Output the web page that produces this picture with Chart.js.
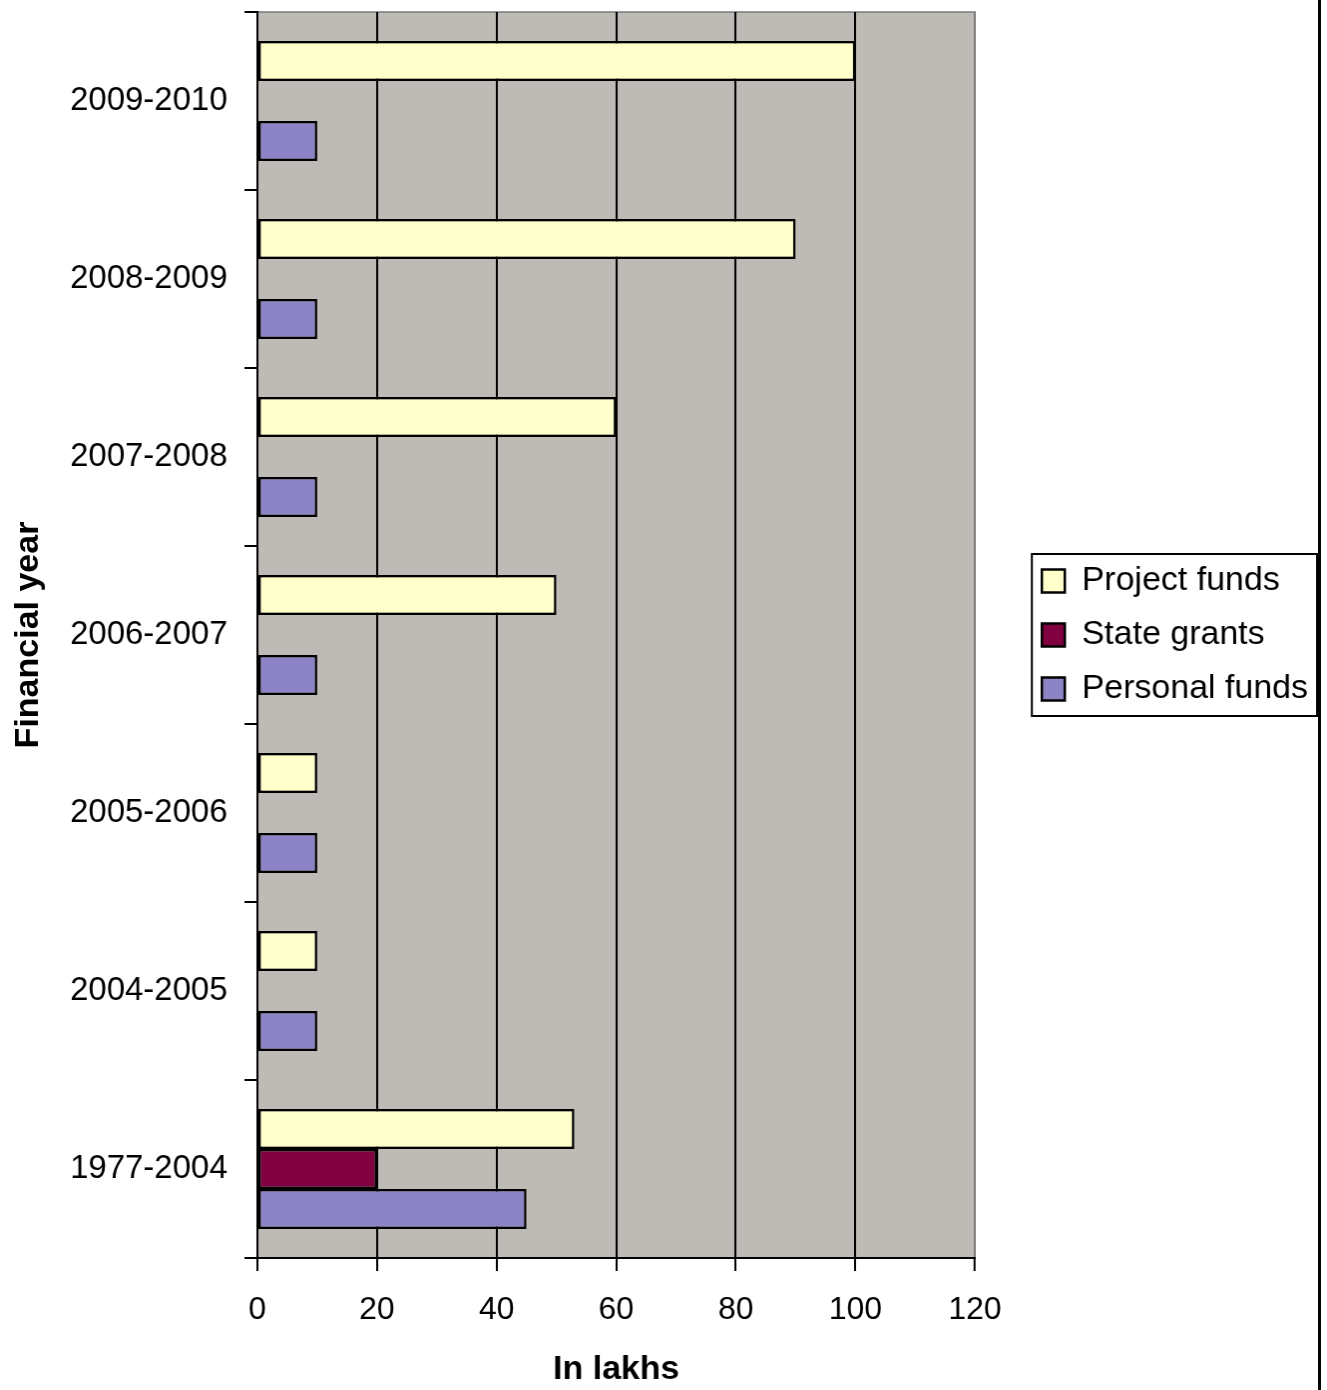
<!DOCTYPE html>
<html lang="en">
<head>
  <meta charset="UTF-8">
  <title>Funding by financial year</title>
  <script src="https://cdn.jsdelivr.net/npm/chart.js"></script>
  <style>
    body { margin: 0; background: #fff; }
    #fundChart { display: block; border-right: 3px solid #000; }
  </style>
</head>
<body>
  <canvas id="fundChart" width="1321" height="1390"></canvas>

  <script>
    // Financial years, top to bottom
    const years = ['2009-2010', '2008-2009', '2007-2008', '2006-2007', '2005-2006', '2004-2005', '1977-2004'];
    // Values in lakhs (null = no bar)
    const projectFunds = [100, 90, 60, 50, 10, 10, 53];
    const stateGrants = [null, null, null, null, null, null, 20];
    const personalFunds = [10, 10, 10, 10, 10, 10, 45];
    const xTicks = [0, 20, 40, 60, 80, 100, 120];

    const FONT = '"Liberation Sans", Arial, sans-serif';

    // grey plot background with thin border
    const plotBackground = {
      id: 'plotBackground',
      beforeDraw(chart) {
        const { ctx, chartArea: a } = chart;
        ctx.save();
        ctx.fillStyle = '#bebab5';
        ctx.fillRect(a.left, a.top, a.right - a.left, a.bottom - a.top);
        ctx.strokeStyle = '#7a7a7a';
        ctx.lineWidth = 1.5;
        ctx.strokeRect(a.left, a.top, a.right - a.left, a.bottom - a.top);
        ctx.restore();
      }
    };

    // frame around the legend items
    const legendFrame = {
      id: 'legendFrame',
      afterDraw(chart) {
        const boxes = chart.legend && chart.legend.legendHitBoxes;
        if (!boxes || !boxes.length) return;
        const first = boxes[0], last = boxes[boxes.length - 1];
        const left = Math.min(...boxes.map(b => b.left)) - 10;
        const right = Math.max(...boxes.map(b => b.left + b.width)) + 9;
        const top = first.top + first.height / 2 - 27;
        const bottom = last.top + last.height / 2 + 27;
        const ctx = chart.ctx;
        ctx.save();
        ctx.strokeStyle = '#000';
        ctx.lineWidth = 2;
        ctx.strokeRect(left, top, right - left, bottom - top);
        ctx.restore();
      }
    };

    new Chart(document.getElementById('fundChart'), {
      type: 'bar',
      data: {
        labels: years,
        datasets: [
          { label: 'Project funds', data: projectFunds, backgroundColor: '#ffffcc' },
          { label: 'State grants', data: stateGrants, backgroundColor: '#800040' },
          { label: 'Personal funds', data: personalFunds, backgroundColor: '#8c84c4' }
        ]
      },
      options: {
        indexAxis: 'y',
        responsive: false,
        animation: false,
        layout: { padding: { top: 12, right: 0, left: 0, bottom: 0 } },
        datasets: {
          bar: {
            borderColor: '#000',
            borderWidth: 2.5,
            borderSkipped: false,
            categoryPercentage: 0.674,
            barPercentage: 1.0
          }
        },
        plugins: {
          tooltip: { enabled: false },
          legend: {
            position: 'right',
            fullSize: false,
            maxWidth: 400,
            labels: {
              color: '#000',
              font: { family: FONT, size: 34 },
              boxWidth: 23,
              boxHeight: 23,
              padding: 20
            }
          }
        },
        scales: {
          x: {
            min: 0,
            max: 120,
            afterBuildTicks(scale) { scale.ticks = xTicks.map(v => ({ value: v })); },
            afterFit(scale) { scale.height = 132; },
            border: { color: '#000', width: 2 },
            grid: {
              color: ctx => (ctx.tick && ctx.tick.value === 120) ? '#7a7a7a' : '#000',
              lineWidth: ctx => (ctx.tick && ctx.tick.value === 120) ? 1.5 : 2,
              tickColor: '#000',
              tickWidth: 2,
              tickLength: 13
            },
            ticks: { color: '#000', padding: 20, font: { family: FONT, size: 32 } },
            title: {
              display: true,
              text: 'In lakhs',
              color: '#000',
              font: { family: FONT, size: 34, weight: 'bold' },
              padding: { top: 0, bottom: 0 }
            }
          },
          y: {
            afterFit(scale) {
              scale.width = 258;
              scale.paddingTop = 0;
              scale.paddingBottom = 0;
            },
            border: { color: '#000', width: 2 },
            grid: {
              drawOnChartArea: false,
              offset: true,
              color: '#000',
              lineWidth: 2,
              tickLength: 13
            },
            ticks: { color: '#000', padding: 17, font: { family: FONT, size: 33 } },
            title: {
              display: true,
              text: 'Financial year',
              color: '#000',
              font: { family: FONT, size: 34, weight: 'bold' },
              padding: { top: 8, bottom: 4 }
            }
          },
          // empty axis that only keeps a gap between the plot and the legend
          gap: {
            type: 'linear',
            position: 'right',
            afterFit(scale) {
              scale.width = 47;
              scale.paddingTop = 0;
              scale.paddingBottom = 0;
            },
            border: { display: false },
            grid: { display: false },
            ticks: { display: false }
          }
        }
      },
      plugins: [plotBackground, legendFrame]
    });
  </script>
</body>
</html>
